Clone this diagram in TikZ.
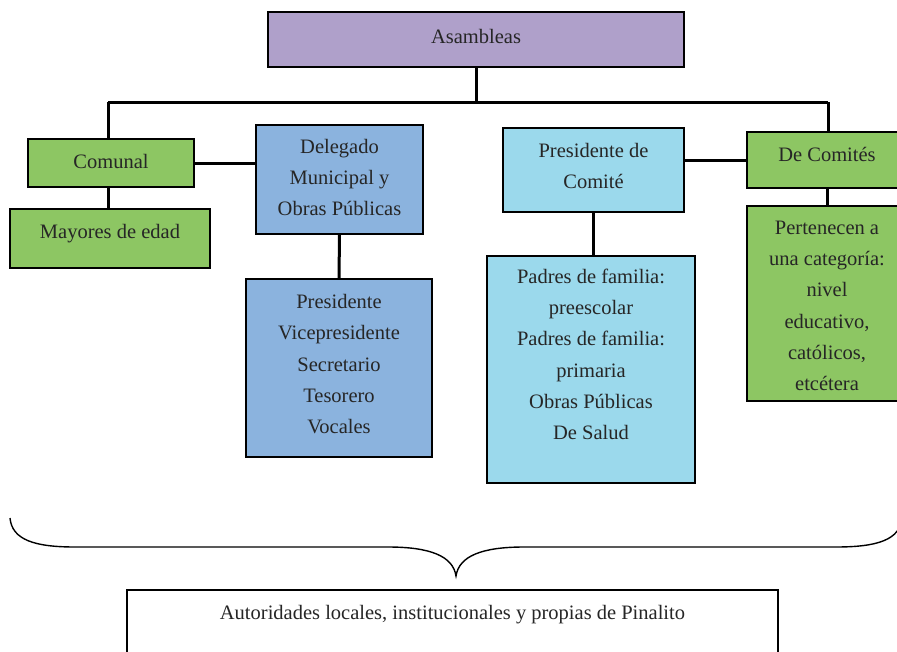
\documentclass[tikz,border=0pt]{standalone}
\usepackage{fontspec}
\setmainfont{Liberation Serif}
\definecolor{lila}{RGB}{175,160,202}
\definecolor{verde}{RGB}{141,198,99}
\definecolor{azul}{RGB}{139,179,222}
\definecolor{celeste}{RGB}{155,217,236}
\begin{document}
\begin{tikzpicture}[x=1pt, y=-1pt, font=\fontsize{20.5}{31.3}\selectfont,
					caja/.style={draw, line width=1.6pt, align=center, inner sep=0pt, text=black!85},
					enlace/.style={line width=3pt}]
					\clip (0,0) rectangle (897,651);
					\node[caja, fill=lila, minimum width=416, minimum height=55, text depth=6] (A)at(476, 39.5) {Asambleas};
					\node[caja, fill=verde, minimum width=166, minimum height=48, text depth=4] (C)at(111, 163) {Comunal};
					\node[caja, fill=verde, minimum width=200, minimum height=59, text depth=14.5] (M)at(110, 238.5) {Mayores de edad};
					\node[caja, fill=azul, minimum width=167, minimum height=109, text depth=4] (D)at(339.5, 179.5) {Delegado\\Municipal y\\Obras Públicas};
					\node[caja, fill=azul, minimum width=186, minimum height=178, text depth=8] (L)at(339, 368) {Presidente\\Vicepresidente\\Secretario\\Tesorero\\Vocales};
					\node[caja, fill=celeste, minimum width=181, minimum height=84, text depth=8] (P)at(593.5, 170) {Presidente de\\Comité};
					\node[caja, fill=celeste, minimum width=208, text height=183.5, text depth=43] (F)at(591, 369.5) {Padres de familia:\\preescolar\\Padres de familia:\\primaria\\Obras Públicas\\De Salud};
					\node[caja, fill=verde, minimum width=160, minimum height=56, text depth=12] (K)at(827, 160) {De Comités};
					\node[caja, fill=verde, minimum width=160, minimum height=195, text height=174.5] (G)at(827, 303.5) {Pertenecen a\\una categoría:\\nivel\\educativo,\\católicos,\\etcétera};
					\node[caja, fill=white, minimum width=651, text height=30, text depth=80, anchor=north] (B)at(452.5, 589) {Autoridades locales, institucionales y propias de Pinalito};
					\coordinate (I)at(108, 102);
					\coordinate (J)at(828, 102);
					\draw[enlace] (A.south) -- (A.south |- I);
					\draw[enlace] (I) -- (J);
					\draw[enlace] (I) -- (I |- C.north);
					\draw[enlace] (J) -- (J |- K.north);
					\draw[enlace] (I |- C.south) -- (I |- M.north);
					\draw[enlace] (C.east) -- (C.east -| D.west);
					\draw[enlace] (D.south) -- (L.north);
					\draw[enlace] (P.south) -- (P.south |- F.north);
					\draw[enlace] (K.west) -- (K.west -| P.east);
					\draw[enlace] (K.south) -- (G.north);
					% llave
					\draw[line width=1.4pt] (10, 518) .. controls (12, 540) and (35, 547) .. (75, 547) -- (388, 547) .. controls (430, 547) and (453, 556) .. (456, 576) .. controls (459, 556) and (482, 547) .. (524, 547) -- (836, 547) .. controls (877, 547) and (900, 540) .. (902, 518);
				\end{tikzpicture}
\end{document}
